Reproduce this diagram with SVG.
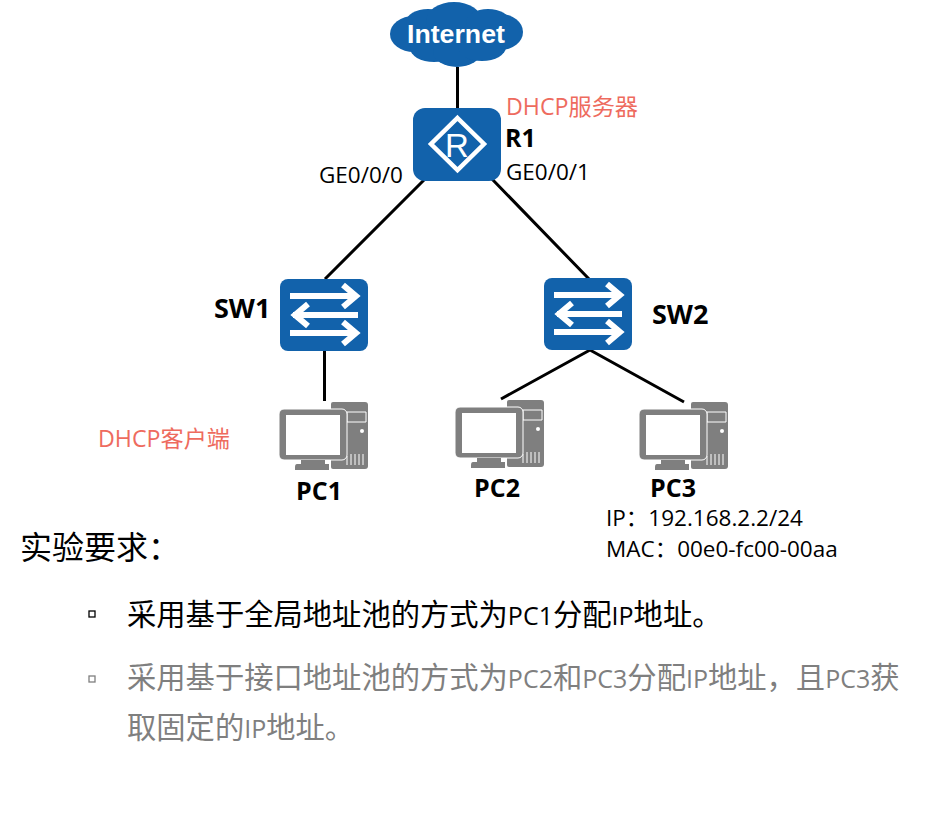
<svg xmlns="http://www.w3.org/2000/svg" xmlns:xlink="http://www.w3.org/1999/xlink" width="934" height="834" viewBox="0 0 934 834">
<style>
text{font-family:"Open Sans","Noto Sans CJK SC",sans-serif}
.lbl{font-size:22.500px;fill:#000}
.b{font-size:25px;font-weight:700;fill:#000}
.red{font-size:23.200px;fill:#ee6b5e}
.h{font-size:29.300px;fill:#000}
.g{font-size:29.300px;fill:#7f7f7f}
.n{font-size:25px}
.link{stroke:#000;stroke-width:3;fill:none}
.dev{fill:#1262ab}
.w{fill:none;stroke:#fff;stroke-width:6}
.pc{fill:#7f7f7f}
.bul{fill:#fff;stroke-width:1.3}
</style>
<defs>
<g id="sw">
<rect x="0" y="0" width="88" height="72" rx="8" class="dev"/>
<path class="w" d="M10 17H75M63 6L76 17L63 28M78 36H13M28 25L15 36L28 47M10 54H75M63 43L76 54L63 65"/>
</g>
<g id="pcg">
<path class="pc" d="M52 2Q52 0 54 0H86Q89 0 89 3V64Q89 67 86 67H54Q52 67 52 65Z"/>
<path fill="none" stroke="#fff" stroke-width="1" d="M68 10H87V20H68ZM68 54V63M72 52V63M76 52V63M80 52V63M84 52V63"/>
<circle cx="83" cy="29" r="2" fill="#fff"/>
<rect x="0" y="7" width="68" height="51" rx="5" class="pc" stroke="#fff" stroke-width="1"/>
<rect x="7" y="13" width="54" height="40" fill="#fff"/>
<rect x="22" y="58" width="24" height="4" class="pc"/>
<path class="pc" d="M16 65Q16 62 18 62H50V68H16Z"/>
</g>
</defs>
<g id="connectors">
<path class="link" d="M457.500 67V108M424 180L325 279M491 178L589 279M324.500 351V401M590 350L501 399M590 350L684 402"/>
</g>
<g id="internet">
<g class="dev">
<ellipse cx="414" cy="34" rx="24" ry="18"/>
<ellipse cx="500" cy="32" rx="23" ry="18"/>
<ellipse cx="428" cy="22" rx="22" ry="13"/>
<ellipse cx="454" cy="21" rx="28" ry="19"/>
<ellipse cx="488" cy="22" rx="22" ry="13"/>
<ellipse cx="434" cy="48" rx="24" ry="14"/>
<ellipse cx="457" cy="52" rx="24" ry="15"/>
<ellipse cx="482" cy="47" rx="24" ry="14"/>
</g>
<text x="407" y="43" font-size="26.700" font-weight="700" fill="#fff" style="font-family:'Liberation Sans',sans-serif">Internet</text>
</g>
<g id="R1">
<rect x="413" y="108" width="88" height="73" rx="12" class="dev"/>
<path d="M457.500 118L484 144L457.500 170L431 144Z" fill="none" stroke="#fff" stroke-width="4.500"/>
<text x="457" y="157" font-size="33" fill="#fff" text-anchor="middle" style="font-family:'Liberation Sans',sans-serif">R</text>
<text class="b" x="505" y="147">R1</text>
<text class="red" x="506" y="115">DHCP服务器</text>
<text class="lbl" x="319" y="183">GE0/0/0</text>
<text class="lbl" x="506" y="180">GE0/0/1</text>
</g>
<g id="SW1">
<use xlink:href="#sw" href="#sw" x="280" y="279"/>
<text class="b" x="214" y="318" style="font-size:27px">SW1</text>
</g>
<g id="SW2">
<use xlink:href="#sw" href="#sw" x="544" y="278"/>
<text class="b" x="652" y="324" style="font-size:27px">SW2</text>
</g>
<g id="PC1">
<use xlink:href="#pcg" href="#pcg" x="279" y="402"/>
<text class="b" x="296" y="500">PC1</text>
<text class="red" x="98" y="447">DHCP客户端</text>
</g>
<g id="PC2">
<use xlink:href="#pcg" href="#pcg" x="455" y="400"/>
<text class="b" x="474" y="497">PC2</text>
</g>
<g id="PC3">
<use xlink:href="#pcg" href="#pcg" x="639" y="402"/>
<text class="b" x="650" y="497">PC3</text>
<text class="lbl" x="606" y="526">IP：192.168.2.2/24</text>
<text class="lbl" x="606" y="557">MAC：00e0-fc00-00aa</text>
</g>
<g id="requirements">
<text x="20" y="559" font-size="32" fill="#000">实验要求：</text>
<rect class="bul" x="89" y="611" width="6" height="6" stroke="#000"/>
<text class="h" x="127" y="625">采用基于全局地址池的方式为<tspan class="n">PC1</tspan>分配<tspan class="n">IP</tspan>地址。</text>
<rect class="bul" x="89" y="676" width="6" height="6" stroke="#7f7f7f"/>
<text class="g" x="127" y="688">采用基于接口地址池的方式为<tspan class="n">PC2</tspan>和<tspan class="n">PC3</tspan>分配<tspan class="n">IP</tspan>地址，且<tspan class="n">PC3</tspan>获</text>
<text class="g" x="127" y="738">取固定的<tspan class="n">IP</tspan>地址。</text>
</g>
</svg>
